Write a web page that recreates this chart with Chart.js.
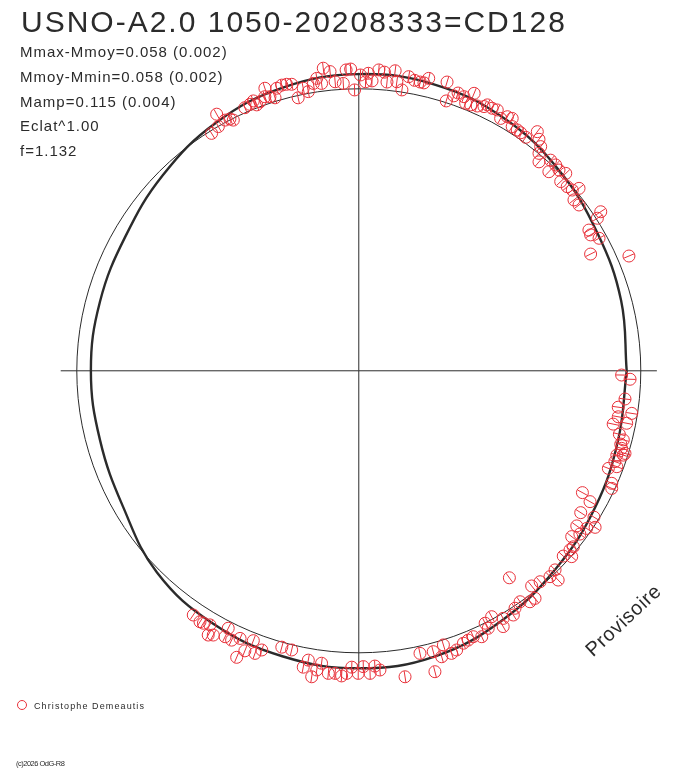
<!DOCTYPE html>
<html>
<head>
<meta charset="utf-8">
<script src="https://cdn.jsdelivr.net/npm/chart.js@4.4.1/dist/chart.umd.min.js"></script>
<style>
  html, body { margin: 0; padding: 0; background: #fff; }
  canvas { display: block; }
</style>
</head>
<body>
<canvas id="polar" width="688" height="768"></canvas>
<script>
// observations, polar diagram in units of the mean radius (reference circle = 1)
const obsX = [
  -0.522,-0.504,-0.498,-0.474,-0.457,-0.445,-0.404,-0.386,-0.374,-0.362,
  -0.350,-0.333,-0.333,-0.315,-0.297,-0.291,-0.273,-0.256,-0.238,-0.215,
  -0.197,-0.179,-0.161,-0.149,-0.132,-0.126,-0.102,-0.084,-0.055,-0.045,
  -0.029,-0.015,0.006,0.034,0.024,0.047,0.071,0.091,0.100,0.129,
  0.135,0.153,0.177,0.198,0.218,0.231,0.248,0.313,0.310,0.337,
  0.352,0.373,0.379,0.397,0.409,0.420,0.444,0.456,0.473,0.491,
  0.503,0.527,0.544,0.544,0.562,0.574,0.592,0.633,0.639,0.645,
  0.639,0.639,0.674,0.680,0.698,0.710,0.716,0.734,0.739,0.757,
  0.781,0.763,0.781,0.858,0.846,0.816,0.822,0.852,0.822,0.958,
  0.932,0.962,0.944,0.920,0.968,0.920,0.902,0.950,0.924,0.938,
  0.929,0.932,0.944,0.915,0.938,0.908,0.915,0.885,0.897,0.897,
  0.793,0.820,0.787,0.834,0.773,0.808,0.838,0.755,0.784,0.761,
  0.749,0.725,0.755,0.696,0.707,0.678,0.643,0.613,0.534,0.625,
  0.607,0.572,0.554,0.548,0.512,0.471,0.448,0.459,0.512,0.436,
  0.406,0.388,0.371,0.347,0.329,0.300,0.294,0.264,0.217,0.270,
  0.164,0.075,0.057,0.040,0.016,-0.002,-0.025,-0.043,-0.061,-0.084,
  -0.108,-0.132,-0.149,-0.167,-0.179,-0.197,-0.238,-0.273,-0.344,-0.368,
  -0.374,-0.404,-0.433,-0.421,-0.451,-0.463,-0.474,-0.516,-0.534,-0.528,
  -0.551,-0.563,-0.587
];
const obsY = [
  0.842,0.910,0.866,0.889,0.893,0.889,0.933,0.945,0.957,0.943,
  0.954,1.002,0.972,0.972,0.968,1.002,1.013,1.016,1.016,0.968,
  1.002,0.990,1.019,1.037,1.019,1.073,1.061,1.025,1.019,1.067,
  1.070,0.996,1.049,1.055,1.025,1.028,1.067,1.059,1.024,1.064,
  1.025,0.996,1.043,1.030,1.024,1.021,1.037,1.024,0.957,0.975,
  0.985,0.972,0.949,0.943,0.984,0.939,0.937,0.943,0.931,0.925,
  0.895,0.901,0.895,0.866,0.854,0.844,0.828,0.848,0.821,0.795,
  0.771,0.741,0.706,0.747,0.730,0.712,0.671,0.700,0.653,0.641,
  0.647,0.606,0.588,0.564,0.541,0.499,0.482,0.470,0.414,0.407,
  -0.015,-0.030,-0.100,-0.129,-0.151,-0.163,-0.189,-0.186,-0.225,-0.245,
  -0.260,-0.275,-0.293,-0.299,-0.299,-0.322,-0.340,-0.346,-0.399,-0.417,
  -0.432,-0.464,-0.503,-0.519,-0.550,-0.559,-0.555,-0.588,-0.579,-0.624,
  -0.635,-0.657,-0.659,-0.706,-0.742,-0.730,-0.748,-0.763,-0.734,-0.807,
  -0.819,-0.819,-0.842,-0.866,-0.878,-0.872,-0.895,-0.913,-0.907,-0.943,
  -0.943,-0.955,-0.966,-0.990,-1.002,-0.972,-1.014,-0.996,-1.002,-1.067,
  -1.085,-1.061,-1.047,-1.073,-1.049,-1.073,-1.051,-1.073,-1.082,-1.073,
  -1.073,-1.037,-1.061,-1.085,-1.026,-1.051,-0.990,-0.980,-0.990,-1.002,
  -0.957,-0.993,-1.016,-0.949,-0.955,-0.913,-0.943,-0.937,-0.937,-0.901,
  -0.895,-0.890,-0.866
];
const obsErr = 0.02; // radial error bar half length

// fitted model, radius against polar angle (degrees)
const modelAngleDeg = [0, 15, 30, 45, 60, 75, 90, 105, 120, 135, 150, 165,
                       180, 195, 210, 225, 240, 255, 270, 285, 300, 315, 330, 345];
const modelRadius = [0.950, 0.963, 0.977, 1.005, 1.033, 1.050, 1.052, 1.040, 1.015, 0.982, 0.955, 0.950,
                     0.950, 0.950, 0.965, 1.012, 1.035, 1.048, 1.055, 1.048, 1.020, 0.990, 0.968, 0.952];

const meanRadius = 1.0;
const axisHalf = 1.057;

const titleText = "USNO-A2.0 1050-20208333=CD128";
const statLines = [
  "Mmax-Mmoy=0.058 (0.002)",
  "Mmoy-Mmin=0.058 (0.002)",
  "Mamp=0.115 (0.004)",
  "Eclat^1.00",
  "f=1.132"
];
const observer = "Christophe Demeautis";
const copyright = "(c)2026 OdG-R8";

const RED = "#e8313a";
const INK = "#2b2b2b";

const obsPoints = obsX.map((x, i) => ({ x: x, y: obsY[i] }));
const modelPoints = modelAngleDeg.concat([360]).map((a, i) => {
  const r = modelRadius[i % modelRadius.length];
  const t = a * Math.PI / 180;
  return { x: r * Math.cos(t), y: r * Math.sin(t) };
});

const decor = {
  id: "decor",
  beforeDatasetsDraw(chart) {
    const { ctx, scales } = chart;
    const cx = scales.x.getPixelForValue(0);
    const cy = scales.y.getPixelForValue(0);
    const rad = scales.x.getPixelForValue(meanRadius) - cx;
    ctx.save();
    ctx.strokeStyle = INK;
    ctx.lineWidth = 1;
    ctx.beginPath();
    ctx.arc(cx, cy, rad, 0, Math.PI * 2);
    ctx.stroke();
    ctx.restore();
  },
  afterDatasetsDraw(chart) {
    const { ctx, scales } = chart;
    ctx.save();
    ctx.strokeStyle = RED;
    ctx.lineWidth = 1;
    obsPoints.forEach(p => {
      const t = Math.atan2(p.y, p.x);
      const r = Math.hypot(p.x, p.y);
      ctx.beginPath();
      ctx.moveTo(scales.x.getPixelForValue((r - obsErr) * Math.cos(t)), scales.y.getPixelForValue((r - obsErr) * Math.sin(t)));
      ctx.lineTo(scales.x.getPixelForValue((r + obsErr) * Math.cos(t)), scales.y.getPixelForValue((r + obsErr) * Math.sin(t)));
      ctx.stroke();
    });
    ctx.restore();
  },
  afterDraw(chart) {
    const ctx = chart.ctx;
    ctx.save();
    ctx.fillStyle = INK;
    ctx.textBaseline = "alphabetic";
    ctx.font = "30px 'Liberation Sans', Arial, sans-serif";
    ctx.letterSpacing = "2px";
    ctx.fillText(titleText, 21, 32);
    ctx.font = "15px 'Liberation Sans', Arial, sans-serif";
    ctx.letterSpacing = "1px";
    statLines.forEach((s, i) => ctx.fillText(s, 20, 57 + i * 24.75));

    // legend
    ctx.strokeStyle = RED;
    ctx.lineWidth = 1;
    ctx.beginPath();
    ctx.arc(22, 705, 4.5, 0, Math.PI * 2);
    ctx.stroke();
    ctx.font = "9px 'Liberation Sans', Arial, sans-serif";
    ctx.letterSpacing = "1.1px";
    ctx.fillText(observer, 34, 709);

    ctx.font = "7.5px 'Liberation Sans', Arial, sans-serif";
    ctx.letterSpacing = "-0.5px";
    ctx.fillText(copyright, 16, 766);

    // watermark
    ctx.translate(624, 621);
    ctx.rotate(-43 * Math.PI / 180);
    ctx.font = "20px 'Liberation Sans', Arial, sans-serif";
    ctx.letterSpacing = "0.6px";
    ctx.textAlign = "center";
    ctx.textBaseline = "middle";
    ctx.fillText("Provisoire", 0, 0);
    ctx.restore();
  }
};

new Chart(document.getElementById("polar"), {
  type: "scatter",
  data: {
    datasets: [
      {
        label: observer,
        data: obsPoints,
        pointStyle: "circle",
        pointRadius: 6,
        pointHoverRadius: 6,
        borderColor: RED,
        backgroundColor: "rgba(0,0,0,0)",
        borderWidth: 1,
        order: 0
      },
      {
        label: "model",
        data: modelPoints,
        showLine: true,
        tension: 0.4,
        pointRadius: 0,
        borderColor: INK,
        borderWidth: 2.4,
        order: 1
      },
      {
        label: "axis x",
        data: [{ x: -axisHalf, y: 0 }, { x: axisHalf, y: 0 }],
        showLine: true,
        pointRadius: 0,
        borderColor: INK,
        borderWidth: 1,
        order: 2
      },
      {
        label: "axis y",
        data: [{ x: 0, y: -axisHalf }, { x: 0, y: axisHalf }],
        showLine: true,
        pointRadius: 0,
        borderColor: INK,
        borderWidth: 1,
        order: 2
      }
    ]
  },
  options: {
    responsive: false,
    animation: false,
    devicePixelRatio: 1,
    layout: { padding: 0, autoPadding: false },
    scales: {
      x: { type: "linear", display: false, min: -1.2723, max: 1.1674 },
      y: { type: "linear", display: false, min: -1.4085, max: 1.3149 }
    },
    plugins: {
      legend: { display: false },
      tooltip: { enabled: false }
    }
  },
  plugins: [decor]
});
</script>
</body>
</html>
